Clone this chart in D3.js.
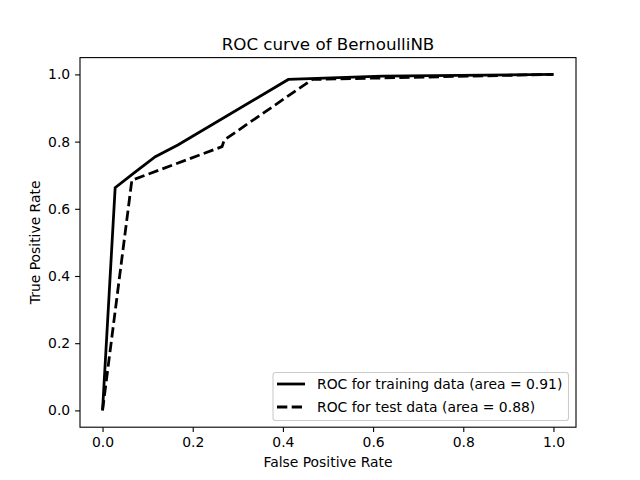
<!DOCTYPE html>
<html><head><meta charset="utf-8">
<script src="https://cdn.jsdelivr.net/npm/d3@7"></script>
<style>body{margin:0;background:#fff}svg{display:block}text{font-family:"DejaVu Sans",sans-serif;fill:#000}</style>
</head><body>
<svg id="c" width="640" height="480"></svg>
<script>
const trainFpr = [0, 0.028, 0.07, 0.117, 0.167, 0.412, 0.62, 1.0];
const trainTpr = [0, 0.663, 0.707, 0.755, 0.79, 0.985, 0.995, 1.0];
const testFpr = [0, 0.065, 0.265, 0.27, 0.465, 1.0];
const testTpr = [0, 0.685, 0.785, 0.805, 0.985, 1.0];
const xTicks = [0.0, 0.2, 0.4, 0.6, 0.8, 1.0];
const yTicks = [0.0, 0.2, 0.4, 0.6, 0.8, 1.0];
const seriesLabels = ["ROC for training data (area = 0.91)", "ROC for test data (area = 0.88)"];
const titleText = "ROC curve of BernoulliNB";
const xLabel = "False Positive Rate";
const yLabel = "True Positive Rate";

const svg = d3.select("#c");
const L = 80, R = 576, T = 57.6, B = 427.2;
const x = d3.scaleLinear().domain([-0.05, 1.05]).range([L, R]);
const y = d3.scaleLinear().domain([-0.05, 1.05]).range([B, T]);
const fs = 13.9;

const xa = svg.append("g").attr("transform", `translate(0,${B})`)
  .call(d3.axisBottom(x).tickValues(xTicks).tickFormat(d3.format(".1f")).tickSize(4.9).tickPadding(4.9));
const ya = svg.append("g").attr("transform", `translate(${L},0)`)
  .call(d3.axisLeft(y).tickValues(yTicks).tickFormat(d3.format(".1f")).tickSize(4.9).tickPadding(4.9));
[xa, ya].forEach(a => {
  a.select(".domain").remove();
  a.selectAll("line").attr("stroke", "#000").attr("stroke-width", 1.1);
  a.selectAll("text").attr("font-size", fs).attr("font-family", "DejaVu Sans").attr("fill", "#000");
});

const line = d3.line().x(d => x(d[0])).y(d => y(d[1]));
const trainData = trainFpr.map((v, i) => [v, trainTpr[i]]);
const testData = testFpr.map((v, i) => [v, testTpr[i]]);
svg.append("path").attr("d", line(trainData)).attr("fill", "none").attr("stroke", "#000")
  .attr("stroke-width", 2.78).attr("stroke-linejoin", "miter").attr("stroke-linecap", "butt");
svg.append("path").attr("d", line(testData)).attr("fill", "none").attr("stroke", "#000")
  .attr("stroke-width", 2.78).attr("stroke-dasharray", "10.3,4.4").attr("stroke-linecap", "butt");

svg.append("rect").attr("x", L).attr("y", T).attr("width", R - L).attr("height", B - T)
  .attr("fill", "none").attr("stroke", "#000").attr("stroke-width", 1.1);

svg.append("text").attr("x", (L + R) / 2).attr("y", 49.5).attr("text-anchor", "middle")
  .attr("font-size", 16.7).text(titleText);
svg.append("text").attr("x", (L + R) / 2).attr("y", 467).attr("text-anchor", "middle")
  .attr("font-size", fs).text(xLabel);
svg.append("text").attr("transform", `translate(40,${(T + B) / 2}) rotate(-90)`).attr("text-anchor", "middle")
  .attr("font-size", fs).text(yLabel);

// legend
const lg = svg.append("g");
lg.append("rect").attr("x", 273).attr("y", 372.5).attr("width", 295.5).attr("height", 48)
  .attr("rx", 2.8).attr("fill", "#fff").attr("fill-opacity", 0.8).attr("stroke", "#cccccc").attr("stroke-width", 1.1);
const rows = [384, 407];
const dashes = [null, "10.3,4.4"];
rows.forEach((ry, i) => {
  lg.append("line").attr("x1", 277).attr("x2", 305).attr("y1", ry).attr("y2", ry)
    .attr("stroke", "#000").attr("stroke-width", 2.78).attr("stroke-dasharray", dashes[i]);
  lg.append("text").attr("x", 317).attr("y", ry + 5).attr("font-size", fs).text(seriesLabels[i]);
});
</script>
</body></html>
